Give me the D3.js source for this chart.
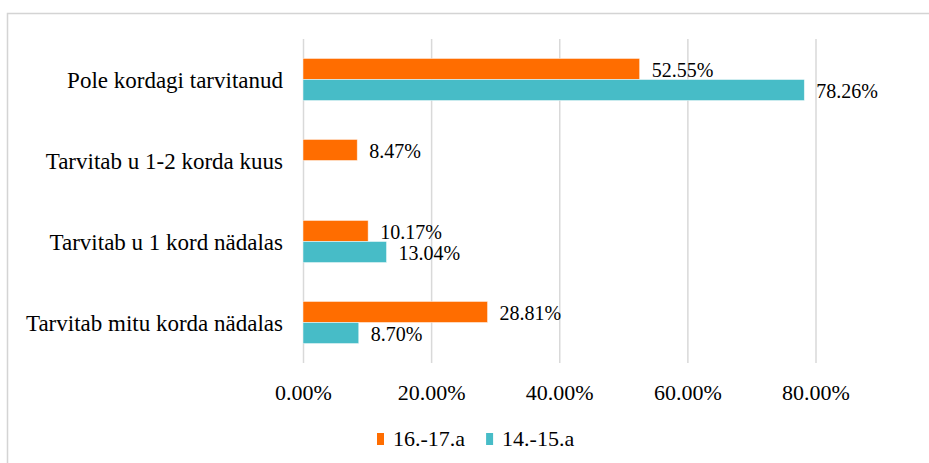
<!DOCTYPE html>
<html>
<head>
<meta charset="utf-8">
<script src="https://cdn.jsdelivr.net/npm/d3@7"></script>
<style>
  html, body { margin: 0; padding: 0; background: #fff; }
  svg text { font-family: "Liberation Serif", "Times New Roman", serif; fill: #000; }
</style>
</head>
<body>
<div id="graph"></div>
<script>
// chart values
var categories = ["Pole kordagi tarvitanud", "Tarvitab u 1-2 korda kuus", "Tarvitab u 1 kord nädalas", "Tarvitab mitu korda nädalas"];
var seriesNames = ["16.-17.a", "14.-15.a"];
var values1617 = [52.55, 8.47, 10.17, 28.81];
var values1415 = [78.26, null, 13.04, 8.70];
var xTicks = [0, 20, 40, 60, 80];
var seriesColors = ["#ff6d00", "#47bcc7"];

var width = 929, height = 463;
var plot = { left: 303, right: 815.5, top: 39, bottom: 363 };

var svg = d3.select("#graph")
        .append("svg")
        .attr("width", width)
        .attr("height", height);

// outer chart border (cut off at right and bottom)
svg.append("rect")
        .attr("x", 7.5)
        .attr("y", 13.5)
        .attr("width", 1000)
        .attr("height", 1000)
        .attr("fill", "#fff")
        .attr("stroke", "#d4d4d4")
        .attr("stroke-width", 1.5);

var x = d3.scaleLinear()
        .domain([0, 80])
        .range([plot.left, plot.right]);

var y = d3.scaleBand()
        .domain(categories)
        .range([plot.top, plot.bottom])
        .paddingInner(0.48)
        .paddingOuter(0.24);

var ySub = d3.scaleBand()
        .domain(seriesNames)
        .range([0, y.bandwidth()]);

// gridlines + tick labels
var xAxis = svg.append("g")
        .attr("transform", "translate(0," + plot.bottom + ")")
        .call(d3.axisBottom(x)
            .tickValues(xTicks)
            .tickSize(-(plot.bottom - plot.top))
            .tickFormat(function(d) { return d.toFixed(2) + "%"; }));
xAxis.select(".domain").remove();
xAxis.selectAll(".tick line")
        .attr("stroke", "#d9d9d9")
        .attr("stroke-width", 1.5);
xAxis.selectAll(".tick text")
        .attr("y", 37)
        .attr("dy", 0)
        .style("font-size", "22px");

// category labels
var yAxis = svg.append("g")
        .attr("transform", "translate(" + plot.left + ",0)")
        .call(d3.axisLeft(y).tickSize(0).tickPadding(20));
yAxis.select(".domain").remove();
yAxis.selectAll(".tick text")
        .attr("dy", "0.38em")
        .style("font-size", "23px");

// bars
var rows = [];
categories.forEach(function(c, i) {
    [values1617, values1415].forEach(function(vals, s) {
        if (vals[i] != null) {
            rows.push({ cat: c, series: seriesNames[s], value: vals[i], color: seriesColors[s] });
        }
    });
});

var bar = svg.selectAll(".bar")
        .data(rows)
        .enter()
        .append("g")
        .attr("class", "bar")
        .attr("transform", function(d) {
            return "translate(0," + (y(d.cat) + ySub(d.series)) + ")";
        });

bar.append("rect")
        .attr("x", x(0))
        .attr("y", 0)
        .attr("width", function(d) { return x(d.value) - x(0); })
        .attr("height", ySub.bandwidth())
        .attr("fill", function(d) { return d.color; })
        .attr("stroke", "#fff")
        .attr("stroke-opacity", 0.6)
        .attr("stroke-width", 0.8);

bar.append("text")
        .attr("x", function(d) { return x(d.value) + 12; })
        .attr("y", ySub.bandwidth() / 2 + 8)
        .style("font-size", "20px")
        .text(function(d) { return d.value.toFixed(2) + "%"; });

// legend
var legend = svg.append("g").attr("transform", "translate(377,433)");
var lx = 0;
seriesNames.forEach(function(name, i) {
    legend.append("rect")
            .attr("x", lx)
            .attr("y", 0)
            .attr("width", 7)
            .attr("height", 12)
            .attr("fill", seriesColors[i]);
    var t = legend.append("text")
            .attr("x", lx + 16)
            .attr("y", 13)
            .style("font-size", "22px")
            .text(name);
    lx += 16 + t.node().getComputedTextLength() + 21;
});
</script>
</body>
</html>
